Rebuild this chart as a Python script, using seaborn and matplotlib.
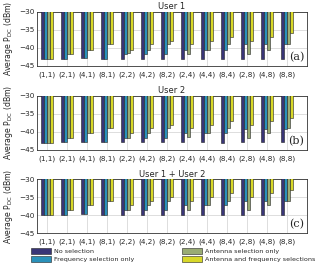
import numpy as np
import pandas as pd
import matplotlib
matplotlib.use("Agg")
import matplotlib.pyplot as plt
import seaborn as sns

# antenna configurations on the x axis
configs = ["(1,1)", "(2,1)", "(4,1)", "(8,1)", "(2,2)", "(4,2)", "(8,2)",
           "(2,4)", "(4,4)", "(8,4)", "(2,8)", "(4,8)", "(8,8)"]
schemes = ["No selection", "Frequency selection only",
           "Antenna selection only", "Antenna and frequency selections"]

# average P_DC (dBm), user 1
u1_none = [-43.2, -43.0, -42.8, -43.0, -43.0, -43.0, -43.0,
           -43.0, -43.0, -43.0, -43.0, -43.0, -43.0]
u1_freq = [-43.2, -43.0, -42.8, -43.0, -41.8, -41.8, -41.8,
           -40.5, -40.5, -40.5, -39.0, -39.0, -39.0]
u1_ant = [-43.2, -41.8, -40.5, -39.0, -41.6, -40.5, -39.0,
          -41.8, -40.5, -39.0, -41.8, -40.5, -39.0]
u1_both = [-43.2, -41.8, -40.5, -39.0, -40.5, -39.0, -38.0,
           -39.0, -38.0, -37.0, -38.0, -37.0, -36.0]

# user 2
u2_none = [-43.1, -43.0, -43.0, -43.0, -43.0, -43.0, -42.9,
           -43.0, -43.0, -43.1, -43.0, -43.0, -43.0]
u2_freq = [-43.1, -43.0, -43.0, -43.0, -41.8, -41.8, -41.8,
           -40.4, -40.4, -40.5, -39.2, -39.2, -39.2]
u2_ant = [-43.1, -41.7, -40.3, -39.1, -41.7, -40.4, -39.0,
          -41.6, -40.4, -39.1, -41.8, -40.4, -39.1]
u2_both = [-43.1, -41.7, -40.3, -39.1, -40.4, -39.1, -38.1,
           -39.1, -38.1, -37.0, -38.1, -37.1, -36.1]

# user 1 + user 2
u12_none = [-39.8, -39.8, -39.7, -39.8, -39.8, -39.8, -39.8,
            -39.8, -39.8, -39.8, -39.8, -39.8, -39.8]
u12_freq = [-39.8, -39.8, -39.7, -39.8, -38.5, -38.5, -38.5,
            -37.2, -37.2, -37.2, -36.0, -36.0, -36.0]
u12_ant = [-39.8, -38.5, -37.2, -36.0, -38.5, -37.2, -36.0,
           -38.5, -37.2, -36.0, -38.5, -37.2, -36.0]
u12_both = [-39.8, -38.5, -37.2, -36.0, -37.2, -36.0, -34.8,
            -36.0, -34.8, -33.9, -34.8, -33.9, -33.0]

panels = [("User 1", "(a)", [u1_none, u1_freq, u1_ant, u1_both]),
          ("User 2", "(b)", [u2_none, u2_freq, u2_ant, u2_both]),
          ("User 1 + User 2", "(c)", [u12_none, u12_freq, u12_ant, u12_both])]

colors = ["#2f2a82", "#129bd2", "#9cb46b", "#f5f50c"]

sns.set_style("white")
plt.rcParams["font.family"] = ["DejaVu Sans"]

fig = plt.figure(figsize=(3.33, 2.66), dpi=100)
tops = [11.7, 95.7, 179.3]
for (title, tag, series), top in zip(panels, tops):
    ax = fig.add_axes([37 / 333, 1 - (top + 54) / 266, 270 / 333, 54 / 266])
    rows = []
    for name, vals in zip(schemes, series):
        for c, v in zip(configs, vals):
            rows.append({"config": c, "scheme": name, "value": v})
    df = pd.DataFrame(rows)
    sns.barplot(data=df, x="config", y="value", hue="scheme",
                hue_order=schemes, order=configs, palette=colors,
                edgecolor="#222222", linewidth=0.4, width=0.62, ax=ax,
                legend=(tag == "(a)"), zorder=3)
    ax.set_ylim(-45, -30)
    ax.set_yticks([-45, -40, -35, -30])
    ax.set_xlim(-0.5, len(configs))
    ax.grid(True, color="#dddddd", linewidth=0.7, zorder=0)
    ax.set_axisbelow(True)
    ax.set_xlabel("")
    ax.set_ylabel("Average P$_{\\rm DC}$ (dBm)", fontsize=5.6, labelpad=3)
    ax.set_title(title, fontsize=6, pad=2)
    ax.tick_params(axis="both", direction="in", labelsize=5.2, length=2,
                   pad=2, width=0.5)
    ax.tick_params(axis="x", pad=4)
    for s in ax.spines.values():
        s.set_linewidth(0.6)
        s.set_color("#333333")
    ax.text(0.99, 0.07, tag, transform=ax.transAxes, ha="right",
            va="bottom", fontsize=8, family="DejaVu Serif",
            bbox=dict(facecolor="white", edgecolor="none", pad=0.5))
    if tag == "(a)":
        handles, labels = ax.get_legend_handles_labels()
        ax.get_legend().remove()

fig.legend(handles, labels, ncol=2, frameon=False, fontsize=4.6,
           loc="upper left", bbox_to_anchor=(28 / 333, 1 - 245 / 266),
           columnspacing=7.5, handlelength=3.2, handleheight=1.2,
           labelspacing=0.25, handletextpad=0.4, borderaxespad=0)

fig.savefig("out.png", dpi=100)
